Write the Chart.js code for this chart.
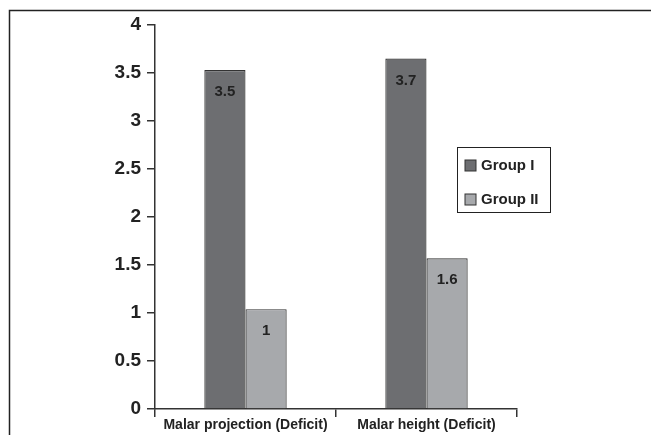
<!DOCTYPE html>
<html>
<head>
<meta charset="utf-8">
<script src="https://cdn.jsdelivr.net/npm/chart.js@4"></script>
<style>
html,body{margin:0;padding:0;background:#fff;}
#wrap{position:relative;width:651px;height:435px;}
</style>
</head>
<body>
<div id="wrap"><canvas id="c" width="651" height="435"></canvas></div>
<script>
const categories = ['Malar projection (Deficit)', 'Malar height (Deficit)'];
const groupI = [3.53, 3.65];
const groupII = [1.04, 1.57];
const groupILabels = ['3.5', '3.7'];
const groupIILabels = ['1', '1.6'];
const seriesNames = ['Group I', 'Group II'];
const yTicks = [0, 0.5, 1, 1.5, 2, 2.5, 3, 3.5, 4];

const FONT = "'Liberation Sans', Arial, sans-serif";
const INK = '#222222';

const framePlugin = {
  id: 'frame',
  beforeDraw(chart) {
    const ctx = chart.ctx;
    ctx.save();
    ctx.fillStyle = '#fff';
    ctx.fillRect(0, 0, chart.width, chart.height);
    ctx.strokeStyle = '#222';
    ctx.lineWidth = 1.5;
    ctx.beginPath();
    ctx.moveTo(9.5, chart.height);
    ctx.lineTo(9.5, 10.5);
    ctx.lineTo(chart.width, 10.5);
    ctx.stroke();
    ctx.restore();
  }
};

const valueLabelPlugin = {
  id: 'valueLabels',
  afterDatasetsDraw(chart) {
    const ctx = chart.ctx;
    const texts = [groupILabels, groupIILabels];
    ctx.save();
    ctx.font = 'bold 15px ' + FONT;
    ctx.fillStyle = INK;
    ctx.textAlign = 'center';
    ctx.textBaseline = 'middle';
    chart.data.datasets.forEach((ds, di) => {
      chart.getDatasetMeta(di).data.forEach((bar, i) => {
        ctx.fillText(texts[di][i], bar.x, bar.y + 22);
      });
    });
    ctx.restore();
  }
};

const legendPlugin = {
  id: 'boxLegend',
  afterDraw(chart) {
    const ctx = chart.ctx;
    const x0 = 457.5, y0 = 147.5, w = 93, h = 65;
    ctx.save();
    ctx.strokeStyle = '#222';
    ctx.lineWidth = 1;
    ctx.strokeRect(x0, y0, w, h);
    ctx.font = 'bold 15px ' + FONT;
    ctx.textBaseline = 'middle';
    ctx.textAlign = 'left';
    chart.data.datasets.forEach((ds, i) => {
      const cy = y0 + 18 + i * 34;
      ctx.fillStyle = ds.backgroundColor;
      ctx.fillRect(x0 + 7.5, cy - 5.5, 11, 11);
      ctx.strokeStyle = '#333';
      ctx.strokeRect(x0 + 7.5, cy - 5.5, 11, 11);
      ctx.fillStyle = INK;
      ctx.fillText(ds.label, x0 + 23.5, cy);
    });
    ctx.restore();
  }
};

new Chart(document.getElementById('c'), {
  type: 'bar',
  data: {
    labels: categories,
    datasets: [
      { label: seriesNames[0], data: groupI, backgroundColor: '#6d6e71', borderColor: '#333', borderWidth: 1.2, borderSkipped: 'bottom' },
      { label: seriesNames[1], data: groupII, backgroundColor: '#a7a9ac', borderColor: '#333', borderWidth: 1.2, borderSkipped: 'bottom' }
    ]
  },
  options: {
    responsive: false,
    animation: false,
    devicePixelRatio: 1,
    layout: { padding: { left: 0, right: 134, top: 25, bottom: 0 } },
    datasets: { bar: { categoryPercentage: 0.455, barPercentage: 1.0 } },
    plugins: {
      legend: { display: false },
      tooltip: { enabled: false }
    },
    scales: {
      x: {
        offset: true,
        afterFit(scale) { scale.height = 26; },
        grid: { display: true, drawOnChartArea: false, drawTicks: true, tickLength: 8, color: '#333', offset: true, lineWidth: 1.5 },
        border: { display: true, color: '#333', width: 1.5 },
        ticks: { color: INK, font: { family: FONT, size: 14, weight: 'bold' }, padding: 0, maxRotation: 0, autoSkip: false }
      },
      y: {
        min: 0,
        max: 4,
        afterFit(scale) { scale.width = 155; },
        afterBuildTicks(scale) { scale.ticks = yTicks.map(v => ({ value: v })); },
        grid: { display: true, drawOnChartArea: false, drawTicks: true, tickLength: 8, color: '#333', lineWidth: 1.5 },
        border: { display: true, color: '#333', width: 1.5 },
        ticks: { color: INK, font: { family: FONT, size: 19, weight: 'bold' }, padding: 6, callback: v => String(v) }
      }
    }
  },
  plugins: [framePlugin, valueLabelPlugin, legendPlugin]
});
</script>
</body>
</html>
